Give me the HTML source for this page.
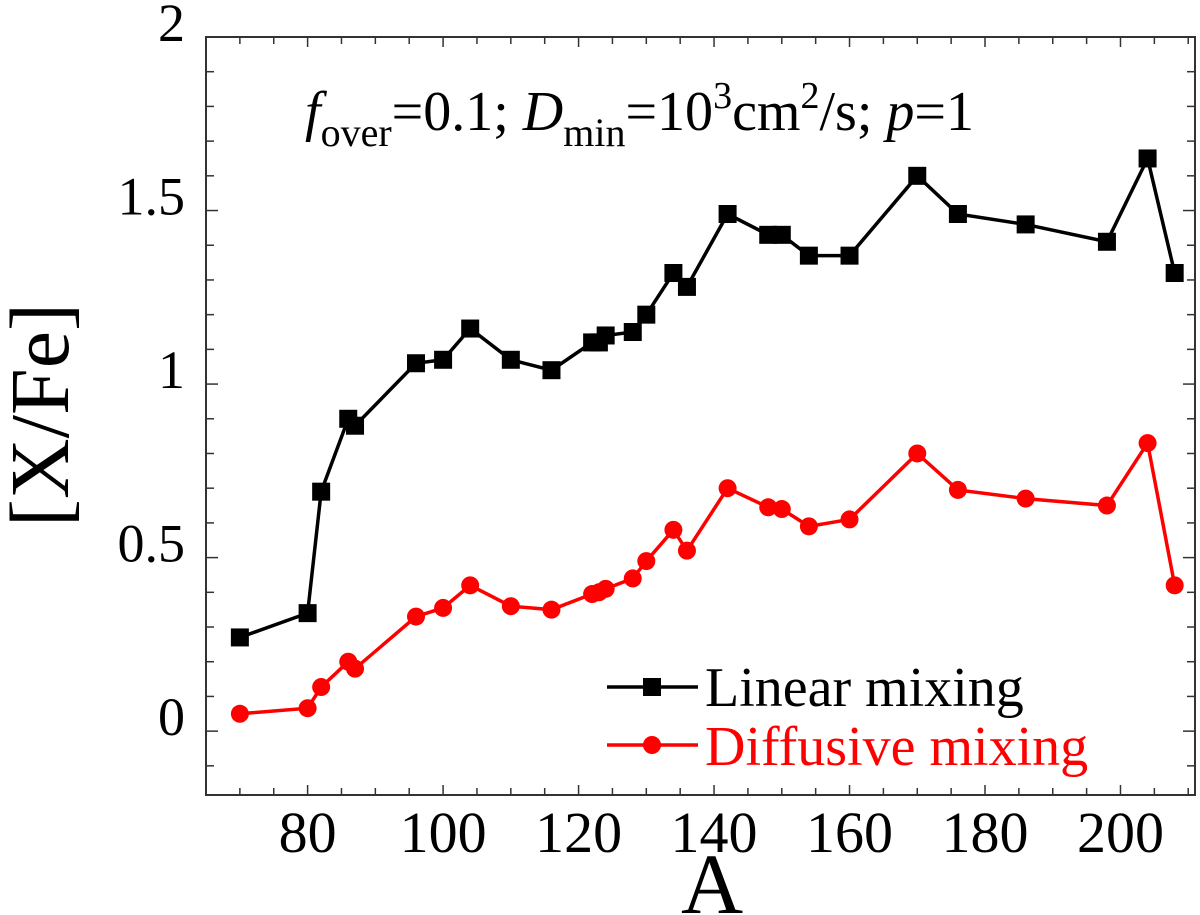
<!DOCTYPE html>
<html><head><meta charset="utf-8"><style>
body{margin:0;background:#fff}
svg{display:block}
svg text{font-family:"Liberation Serif",serif}
</style></head><body>
<svg id="chart" width="1200" height="915" viewBox="0 0 1200 915" xmlns="http://www.w3.org/2000/svg" font-family="Liberation Serif, serif">
<g id="axes"></g>
<g id="series"></g>
<text x="305" y="130" font-size="56"><tspan font-style="italic">f</tspan><tspan font-size="40" dy="16">over</tspan><tspan dy="-16">=0.1; </tspan><tspan font-style="italic">D</tspan><tspan font-size="40" dy="16">min</tspan><tspan dy="-16">=10</tspan><tspan font-size="38" dy="-22">3</tspan><tspan dy="22">cm</tspan><tspan font-size="38" dy="-22">2</tspan><tspan dy="22">/s; </tspan><tspan font-style="italic">p</tspan><tspan>=1</tspan></text>
<text transform="translate(68,415) rotate(-90)" text-anchor="middle" font-size="84">[X/Fe]</text>
<text x="712" y="913" text-anchor="middle" font-size="86">A</text>
<g>
<g>
<line x1="607" y1="687" x2="698" y2="687" stroke="#000" stroke-width="3.5"/>
<rect x="643" y="678" width="18" height="18" fill="#000"/>
<text x="705" y="706" font-size="56">Linear mixing</text></g>
<g>
<line x1="607" y1="745" x2="698" y2="745" stroke="#f00" stroke-width="3.5"/>
<circle cx="652" cy="745" r="9" fill="#f00"/>
<text x="705" y="765" font-size="56" fill="#f00">Diffusive mixing</text></g>
</g>
</svg>
<script>
const massNumbers=[70,80,82,86,87,96,100,104,110,116,122,123,124,128,130,134,136,142,148,150,154,160,170,176,186,198,204,208];
const linearValues=[0.27,0.34,0.69,0.90,0.88,1.06,1.07,1.16,1.07,1.04,1.12,1.12,1.14,1.15,1.20,1.32,1.28,1.49,1.43,1.43,1.37,1.37,1.60,1.49,1.46,1.41,1.65,1.32];
const diffusiveValues=[0.05,0.066,0.127,0.20,0.18,0.33,0.355,0.42,0.36,0.35,0.395,0.40,0.41,0.44,0.49,0.58,0.52,0.70,0.645,0.64,0.59,0.61,0.80,0.695,0.67,0.65,0.83,0.42];
const xTicks=[80,100,120,140,160,180,200];
const yTicks=[0,0.5,1,1.5,2];
const yTickLabels=["0","0.5","1","1.5","2"];
const L=206,R=1195,T=37,B=795;
const xMin=65,xMax=211,yMin=-0.184,yMax=2;
function X(v){return L+(v-xMin)/(xMax-xMin)*(R-L);}
function Y(v){return B-(v-yMin)/(yMax-yMin)*(B-T);}
const NS="http://www.w3.org/2000/svg";
function mk(tag,attrs,parent){const e=document.createElementNS(NS,tag);for(const k in attrs)e.setAttribute(k,attrs[k]);parent.appendChild(e);return e;}
const axes=document.getElementById('axes');
const frame=mk('rect',{x:L,y:T,width:R-L,height:B-T,fill:'none',stroke:'#333','stroke-width':2},axes);


for(let v=65;v<=211;v+=5){
  const major=v%20===0,len=major?10:7;
  [[B,B-len],[T,T+len]].forEach(p=>{const t=mk('line',{x1:X(v),x2:X(v),y1:p[0],y2:p[1],stroke:'#333','stroke-width':1.5},axes);
  
  });
}
for(let i=-1;i<=20;i++){
  const v=i/10,major=i%5===0,len=major?12:8;
  if(v<yMin)continue;
  [[L,L+len],[R,R-len]].forEach(p=>{const t=mk('line',{y1:Y(v),y2:Y(v),x1:p[0],x2:p[1],stroke:'#333','stroke-width':1.5},axes);
  
  });
}
xTicks.forEach(v=>{const t=mk('text',{x:X(v),y:852,'text-anchor':'middle','font-size':58},axes);t.textContent=v;

});
yTicks.forEach((v,i)=>{const t=mk('text',{x:185,y:Y(v)+4,'text-anchor':'end','font-size':54},axes);t.textContent=yTickLabels[i];

});
const sg=document.getElementById('series');
function series(vals,color,shape,name){
  const g=mk('g',{},sg);
  
  
  const pl=mk('polyline',{points:massNumbers.map((a,i)=>X(a)+','+Y(vals[i])).join(' '),fill:'none',stroke:color,'stroke-width':3.5},g);
  
  
  massNumbers.forEach((a,i)=>{
    let m;
    if(shape==='sq')m=mk('rect',{x:X(a)-9,y:Y(vals[i])-9,width:18,height:18,fill:color},g);
    else m=mk('circle',{cx:X(a),cy:Y(vals[i]),r:9,fill:color},g);
    
    
  });
}
series(linearValues,'#000','sq','linear-mixing-series');
series(diffusiveValues,'#f00','ci','diffusive-mixing-series');
</script>
</body></html>
